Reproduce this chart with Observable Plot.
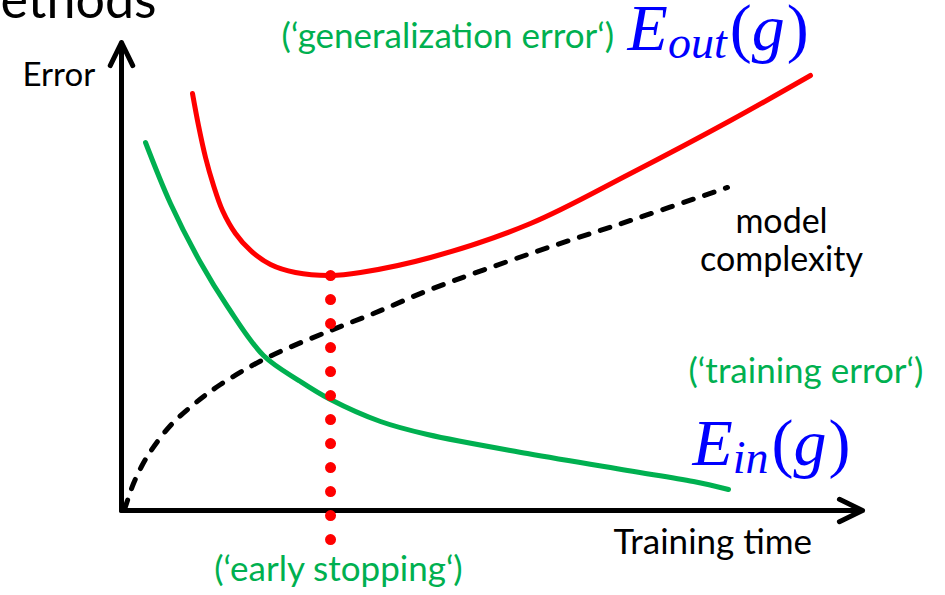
<!DOCTYPE html>
<html>
<head>
<meta charset="utf-8">
<script src="https://cdn.jsdelivr.net/npm/d3@7"></script>
<script src="https://cdn.jsdelivr.net/npm/@observablehq/plot@0.6"></script>
<style>
  html, body { margin: 0; padding: 0; background: #fff; }
  #chart { width: 945px; height: 595px; overflow: hidden; }
</style>
</head>
<body>
<div id="chart"></div>
<script>
// ---- data (arbitrary units 0..100) ----
const outTime = [9.58, 10.39, 11.34, 12.42, 13.63, 15.38, 17.41, 20.11, 23.48, 28.21, 32.25, 41.70, 55.20, 68.69, 82.19, 92.98];
const outErr  = [89.10, 82.26, 75.43, 69.44, 64.10, 59.19, 55.56, 52.56, 50.85, 50.21, 50.85, 54.06, 61.32, 72.01, 83.33, 92.95];

const inTime = [3.24, 6.61, 10.66, 14.30, 19.16, 24.16, 28.21, 34.95, 41.30, 54.79, 68.29, 77.19, 81.92];
const inErr  = [78.63, 65.60, 52.99, 43.59, 33.12, 27.56, 23.72, 19.02, 16.24, 12.18, 8.55, 6.20, 4.49];

const complexityTime  = [0.40, 0.81, 1.62, 2.70, 3.91, 6.61, 9.72, 13.36, 19.70, 28.21, 34.01, 41.70, 55.20, 68.69, 81.78];
const complexityValue = [0.21, 2.14, 5.77, 9.40, 12.61, 18.16, 22.65, 26.92, 32.69, 38.46, 42.09, 47.22, 54.91, 61.97, 69.02];

const earlyStopTime = 28.21;
const earlyStopSpan = [50.21, -6.4];   // from the E_out minimum down below the time axis
const axisMax = 100;

const titleText = "ethods";
const yLabel = "Error";
const xLabel = "Training time";
const outNote = "(\u2018generalization error\u2018)";
const inNote = "(\u2018training error\u2018)";
const stopNote = "(\u2018early stopping\u2018)";
const complexityLabel = "model\ncomplexity";
const outMath = "E_out(g)";
const inMath = "E_in(g)";

// ---- tables ----
const outData = outTime.map((t, i) => ({t, e: outErr[i]}));
const inData = inTime.map((t, i) => ({t, e: inErr[i]}));
const cxData = complexityTime.map((t, i) => ({t, e: complexityValue[i]}));
const stopData = earlyStopSpan.map(e => ({t: earlyStopTime, e}));
const axesData = [
  {x1: 0, y1: 0, x2: axisMax, y2: 0},
  {x1: 0, y1: 0, x2: 0, y2: axisMax}
];

const GREEN = "#00B050", RED = "#FF0000", BLUE = "#0000FF";
const FS = 35;

const svg = Plot.plot({
  width: 945,
  height: 595,
  marginLeft: 121,
  marginRight: 83,
  marginTop: 42,
  marginBottom: 85,
  x: {domain: [0, axisMax], axis: null},
  y: {domain: [0, axisMax], axis: null},
  style: {fontFamily: "Lato", background: "white", overflow: "hidden"},
  marks: [
    Plot.arrow(axesData, {x1: "x1", y1: "y1", x2: "x2", y2: "y2", stroke: "black", strokeWidth: 5,
      headLength: 7.7, headAngle: 52, strokeLinecap: "round", strokeLinejoin: "round"}),
    Plot.line(cxData, {x: "t", y: "e", stroke: "black", strokeWidth: 5, strokeDasharray: "10,12",
      strokeLinecap: "round", curve: "catmull-rom"}),
    Plot.line(inData, {x: "t", y: "e", stroke: GREEN, strokeWidth: 5, strokeLinecap: "round", curve: "catmull-rom"}),
    Plot.line(outData, {x: "t", y: "e", stroke: RED, strokeWidth: 5, strokeLinecap: "round", curve: "catmull-rom"}),
    Plot.line(stopData, {x: "t", y: "e", stroke: RED, strokeWidth: 11, strokeDasharray: "0,24", strokeLinecap: "round"}),

    Plot.text([titleText], {x: -16.33, y: 105.3, text: d => d, textAnchor: "start", lineAnchor: "bottom",
      fontSize: 52, fill: "black"}),
    Plot.text([yLabel], {x: -13.36, y: 90.8, text: d => d, textAnchor: "start", lineAnchor: "bottom",
      fontSize: 33, fill: "black"}),
    Plot.text([outNote], {x: 21.6, y: 98.9, text: d => d, textAnchor: "start", lineAnchor: "bottom",
      fontSize: FS, fill: GREEN}),
    Plot.text([complexityLabel], {x: 89.07, y: 51.28, text: d => d, textAnchor: "middle", lineAnchor: "bottom",
      lineHeight: 1.1, fontSize: 34, fill: "black"}),
    Plot.text([inNote], {x: 76.52, y: 27.35, text: d => d, textAnchor: "start", lineAnchor: "bottom",
      fontSize: FS, fill: GREEN}),
    Plot.text([xLabel], {x: 66.4, y: -9.19, text: d => d, textAnchor: "start", lineAnchor: "bottom",
      fontSize: FS, fill: "black"}),
    Plot.text([stopNote], {x: 29.28, y: -14.96, text: d => d, textAnchor: "middle", lineAnchor: "bottom",
      fontSize: FS, fill: GREEN}),
    Plot.text([outMath], {x: 68.3, y: 98.5, text: d => d, textAnchor: "start", lineAnchor: "bottom",
      fontSize: 66, fill: BLUE, fontFamily: "Liberation Serif", className: "math"}),
    Plot.text([inMath], {x: 77.06, y: 9.62, text: d => d, textAnchor: "start", lineAnchor: "bottom",
      fontSize: 66, fill: BLUE, fontFamily: "Liberation Serif", className: "math"})
  ]
});

// typeset E_sub(g) as real text with tspans
d3.select(svg).selectAll("g.math text").each(function () {
  const s = this.textContent;
  const m = s.match(/^(\w)_(\w+)\((\w)\)$/);
  if (!m) return;
  const t = d3.select(this);
  t.text(null);
  t.append("tspan").attr("font-style", "italic").text(m[1]);
  t.append("tspan").attr("font-style", "italic").attr("font-size", "46px").attr("dy", 8).text(m[2]);
  t.append("tspan").attr("dy", -8).attr("dx", 3).text("(");
  t.append("tspan").attr("font-style", "italic").text(m[3]);
  t.append("tspan").attr("dx", 2).text(")");
});

document.getElementById("chart").appendChild(svg);
</script>
</body>
</html>
